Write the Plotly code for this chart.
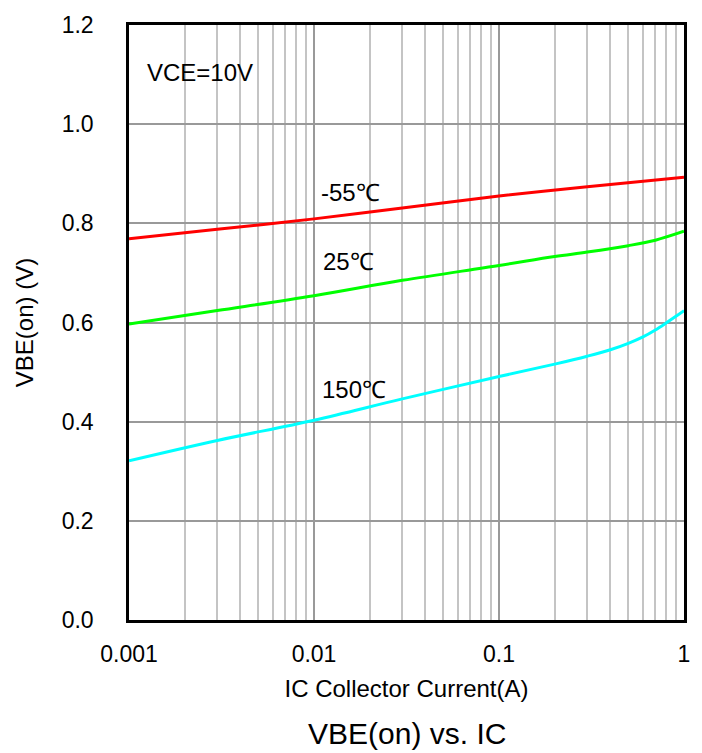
import plotly.graph_objects as go

ic_red = [0.001, 0.003, 0.01, 0.03, 0.1, 0.3, 1.0]
vbe_red = [0.769, 0.788, 0.809, 0.831, 0.855, 0.874, 0.893]

ic_green = [0.001, 0.003, 0.01, 0.03, 0.1, 0.2, 0.3, 0.5, 0.7, 1.0]
vbe_green = [0.597, 0.624, 0.654, 0.685, 0.715, 0.733, 0.742, 0.755, 0.766, 0.784]

ic_cyan = [0.001, 0.003, 0.01, 0.03, 0.1, 0.2, 0.3, 0.4, 0.5, 0.6, 0.7, 0.8, 0.9, 1.0]
vbe_cyan = [0.321, 0.362, 0.403, 0.446, 0.491, 0.516, 0.532, 0.545, 0.558, 0.571, 0.585, 0.599, 0.612, 0.624]

x_tickvals = [0.001, 0.01, 0.1, 1]
x_ticktext = ["0.001", "0.01", "0.1", "1"]
y_tickvals = [0.0, 0.2, 0.4, 0.6, 0.8, 1.0, 1.2]
y_ticktext = ["0.0", "0.2", "0.4", "0.6", "0.8", "1.0", "1.2"]

FONT = "Liberation Sans, Arial, sans-serif"

fig = go.Figure()
for xs, ys, col in [(ic_red, vbe_red, "#ff0000"),
                    (ic_green, vbe_green, "#00ff00"),
                    (ic_cyan, vbe_cyan, "#00ffff")]:
    fig.add_trace(go.Scatter(x=xs, y=ys, mode="lines",
                             line=dict(color=col, width=3, shape="spline", smoothing=1.0),
                             showlegend=False, hoverinfo="skip"))

annots = [
    dict(x=-2.914, y=1.104, text="VCE=10V", anchor="left"),
    dict(x=-1.803, y=0.863, text="-55℃", anchor="center"),
    dict(x=-1.811, y=0.723, text="25℃", anchor="center"),
    dict(x=-1.784, y=0.465, text="150℃", anchor="center"),
]
for a in annots:
    fig.add_annotation(x=a["x"], y=a["y"], xref="x", yref="y", text=a["text"],
                       showarrow=False, xanchor=a["anchor"], yanchor="middle",
                       font=dict(family=FONT, size=24, color="black"))

fig.add_annotation(x=0.5, y=-0.191, xref="paper", yref="paper", text="VBE(on) vs. IC",
                   showarrow=False, xanchor="center", yanchor="middle",
                   font=dict(family=FONT, size=30, color="black"))

fig.update_xaxes(type="log", range=[-3, 0], tickvals=x_tickvals, ticktext=x_ticktext,
                 showgrid=True, gridcolor="#999999", gridwidth=2,
                 minor=dict(dtick="D1", showgrid=True, gridcolor="#c4c4c4", gridwidth=2, ticks=""),
                 showline=True, linecolor="black", linewidth=2.5, mirror=True,
                 ticks="", ticklabelstandoff=12, tickfont=dict(family=FONT, size=23, color="black"),
                 title=dict(text="IC Collector Current(A)", font=dict(family=FONT, size=24, color="black"),
                            standoff=14),
                 zeroline=False)
fig.update_yaxes(range=[0, 1.2], tickvals=y_tickvals, ticktext=y_ticktext,
                 showgrid=True, gridcolor="#999999", gridwidth=2,
                 showline=True, linecolor="black", linewidth=2.5, mirror=True,
                 ticks="", ticklabelstandoff=28, tickfont=dict(family=FONT, size=23, color="black"),
                 title=dict(text="VBE(on) (V)", font=dict(family=FONT, size=24, color="black"),
                            standoff=22),
                 zeroline=False)

fig.update_layout(width=702, height=753, margin=dict(l=129, r=18, t=19, b=133),
                  plot_bgcolor="white", paper_bgcolor="white",
                  font=dict(family=FONT))

fig.write_html("out.html", config={"displayModeBar": False},
               post_script="document.body.style.margin='0';document.body.style.overflow='hidden';")
